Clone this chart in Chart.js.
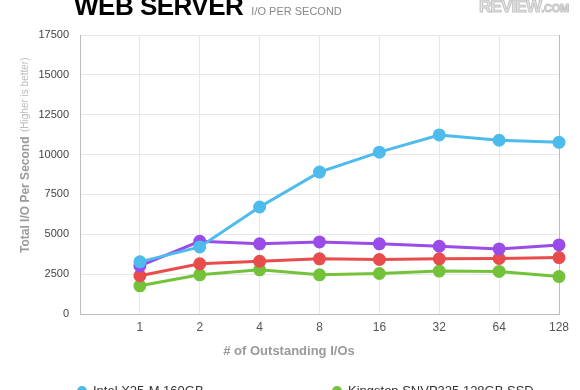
<!DOCTYPE html>
<html>
<head>
<meta charset="utf-8">
<script src="https://cdn.jsdelivr.net/npm/chart.js@4"></script>
<style>
  html, body { margin: 0; padding: 0; background: #fff; overflow: hidden; }
  #wrap { position: relative; width: 580px; height: 390px; }
  #title { position: absolute; left: 74px; top: -9px; font: bold 26px "Liberation Sans", Arial, sans-serif; color: #000; letter-spacing: -0.5px; white-space: nowrap; }
  #title span { font-weight: normal; font-size: 11px; color: #888; letter-spacing: 0; margin-left: 8px; }
  #logo { position: absolute; left: 479px; top: -3px; font: bold 17px "Liberation Sans", Arial, sans-serif; color: #e6e6e6; -webkit-text-stroke: 1px #c4c4c4; white-space: nowrap; letter-spacing: -0.8px; }
  #logo span { font-size: 11px; letter-spacing: -0.3px; }
</style>
</head>
<body>
<div id="wrap">
  <canvas id="chart" width="580" height="390"></canvas>
  <div id="title">WEB SERVER<span>I/O PER SECOND</span></div>
  <div id="logo">REVIEW<span>.COM</span></div>
</div>
<script>
(() => {
    const categories = ['', '1', '2', '4', '8', '16', '32', '64', '128']
    const seriesNames = ['Intel X25-M 160GB', 'Kingston SNVP325 128GB SSD', 'OCZ Vertex 120GB', 'Intel X25-E 32GB']
    const intelX25M = [null, 3270, 4210, 6710, 8900, 10150, 11230, 10900, 10770]
    const kingston = [null, 1770, 2460, 2770, 2460, 2540, 2690, 2670, 2350]
    const redSeries = [null, 2400, 3150, 3310, 3460, 3420, 3460, 3480, 3540]
    const purpleSeries = [null, 3020, 4560, 4400, 4520, 4400, 4250, 4080, 4330]
    const yMax = 17500
    const yStep = 2500

    const colors = ['#4dbbec', '#74c23a', '#e84c4c', '#9a4ce8']
    const values = [intelX25M, kingston, redSeries, purpleSeries]

    const font = '"Liberation Sans", Arial, sans-serif'

    const datasets = values.map((v, i) => ({
        label: seriesNames[i],
        data: v,
        borderColor: colors[i],
        backgroundColor: colors[i],
        pointBackgroundColor: colors[i],
        pointBorderColor: colors[i],
        borderWidth: 3,
        pointRadius: 5,
        tension: 0,
        spanGaps: false,
        order: i == 0 ? 0 : (i == 1 ? 3 : (i == 2 ? 2 : 1))
    }))

    const extras = {
        id: 'extras',
        afterDraw(chart) {
            const c = chart.ctx
            c.save()
            // x axis title
            c.fillStyle = '#9a9a9a'
            c.font = 'bold 13px ' + font
            c.textAlign = 'center'
            c.textBaseline = 'middle'
            c.fillText('# of Outstanding I/Os', 289, 351)
            // y axis title
            c.translate(26, 253)
            c.rotate(-Math.PI / 2)
            c.textAlign = 'left'
            c.font = 'bold 12px ' + font
            c.fillText('Total I/O Per Second', 0, 0)
            c.fillStyle = '#bbbbbb'
            c.font = '10px ' + font
            c.fillText('(Higher is better)', 121, -1)
            c.restore()
            // legend (two columns)
            c.save()
            const cols = [82, 337]
            chart.data.datasets.forEach((ds, i) => {
                const x = cols[i % 2]
                const y = 391 + Math.floor(i / 2) * 22
                c.beginPath()
                c.fillStyle = ds.borderColor
                c.arc(x, y, 5, 0, Math.PI * 2)
                c.fill()
                c.fillStyle = '#333'
                c.font = '13px ' + font
                c.textAlign = 'left'
                c.textBaseline = 'middle'
                c.fillText(ds.label, x + 11, y)
            })
            c.restore()
        }
    }

    const ctx = document.getElementById('chart').getContext('2d')
    new Chart(ctx, {
        type: 'line',
        data: { labels: categories, datasets: datasets },
        plugins: [extras],
        options: {
            responsive: false,
            animation: false,
            layout: { padding: { top: 35, right: 21, left: 0, bottom: 0 } },
            plugins: { legend: { display: false }, tooltip: { enabled: false } },
            scales: {
                x: {
                    offset: false,
                    afterFit: s => { s.height = 76 },
                    grid: {
                        color: ctx => ctx.index == categories.length - 1 ? '#bdbdbd' : '#e8e8e8',
                        drawTicks: false
                    },
                    border: { color: '#bdbdbd' },
                    ticks: { color: '#555', font: { family: font, size: 12 }, padding: 6, maxRotation: 0, autoSkip: false }
                },
                y: {
                    min: 0,
                    max: yMax,
                    afterFit: s => { s.width = 80 },
                    grid: { color: '#e8e8e8', drawTicks: false },
                    border: { color: '#bdbdbd' },
                    ticks: { stepSize: yStep, color: '#444', font: { family: font, size: 11 }, padding: 11, callback: v => String(v) }
                }
            }
        }
    })
})()
</script>
</body>
</html>
